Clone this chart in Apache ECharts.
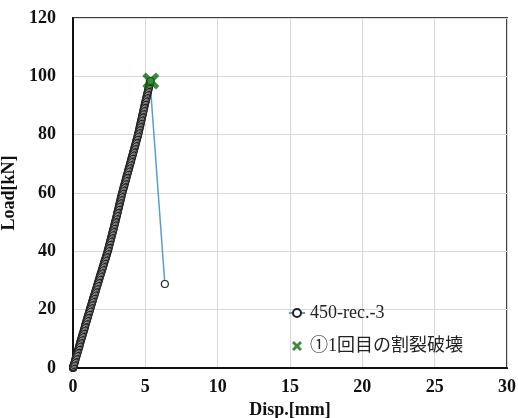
<!DOCTYPE html>
<html>
<head>
<meta charset="utf-8">
<script src="https://cdn.jsdelivr.net/npm/echarts@6/dist/echarts.min.js"></script>
<style>
  html, body { margin: 0; padding: 0; background: #fff; }
  #chart { width: 518px; height: 418px; }
</style>
</head>
<body>
<div id="chart"></div>
<script>
const seriesName = '450-rec.-3';
const crackName = '①1回目の割裂破壊';

// displacement [mm] and load [kN]
const dispValues = [
  0, 0.005, 0.01, 0.015, 0.02,
  0.03, 0.06, 0.09, 0.12, 0.15, 0.17, 0.20, 0.23, 0.26, 0.29, 0.32, 0.35, 0.38, 0.41, 0.44, 0.46, 0.49, 0.52, 0.55, 0.58,
  0.61, 0.64, 0.67, 0.70, 0.73, 0.76, 0.79, 0.82, 0.84, 0.87, 0.90, 0.93, 0.96, 0.99, 1.02, 1.05, 1.08, 1.11, 1.14, 1.17,
  1.20, 1.23, 1.26, 1.29, 1.32, 1.35, 1.38, 1.41, 1.44, 1.48, 1.51, 1.54, 1.57, 1.60, 1.63, 1.66, 1.69, 1.72, 1.75, 1.78,
  1.81, 1.84, 1.87, 1.90, 1.94, 1.97, 2.00, 2.03, 2.06, 2.09, 2.12, 2.15, 2.18, 2.21, 2.25, 2.28, 2.31, 2.34, 2.37, 2.40,
  2.43, 2.45, 2.48, 2.50, 2.53, 2.56, 2.58, 2.61, 2.63, 2.66, 2.69, 2.71, 2.74, 2.76, 2.79, 2.82, 2.84, 2.87, 2.89, 2.92,
  2.94, 2.97, 2.99, 3.02, 3.04, 3.06, 3.09, 3.11, 3.14, 3.16, 3.18, 3.21, 3.23, 3.26, 3.28, 3.30, 3.33, 3.35, 3.38, 3.40,
  3.43, 3.46, 3.48, 3.51, 3.54, 3.57, 3.59, 3.62, 3.65, 3.68, 3.70, 3.73, 3.76, 3.79, 3.81, 3.84, 3.87, 3.90, 3.92, 3.95,
  3.98, 4.01, 4.03, 4.06, 4.09, 4.12, 4.14, 4.17, 4.20, 4.23, 4.25, 4.28, 4.31, 4.34, 4.36, 4.39, 4.42, 4.45, 4.47, 4.50,
  4.52, 4.55, 4.57, 4.59, 4.61, 4.64, 4.66, 4.68, 4.70, 4.73, 4.75, 4.77, 4.79, 4.82, 4.84, 4.86, 4.88, 4.91, 4.93, 4.95,
  4.97, 5.00, 5.02, 5.05, 5.07, 5.09, 5.12, 5.14, 5.16, 5.19, 5.21, 5.24, 5.26, 5.28, 5.31, 5.33,
  5.36,
  6.35
];
const loadValues = [
  0, 0.1, 0.2, 0.3, 0.4,
  0.5, 1, 1.5, 2, 2.5, 3, 3.5, 4, 4.5, 5, 5.5, 6, 6.5, 7, 7.5, 8, 8.5, 9, 9.5, 10,
  10.5, 11, 11.5, 12, 12.5, 13, 13.5, 14, 14.5, 15, 15.5, 16, 16.5, 17, 17.5, 18, 18.5, 19, 19.5, 20,
  20.5, 21, 21.5, 22, 22.5, 23, 23.5, 24, 24.5, 25, 25.5, 26, 26.5, 27, 27.5, 28, 28.5, 29, 29.5, 30,
  30.5, 31, 31.5, 32, 32.5, 33, 33.5, 34, 34.5, 35, 35.5, 36, 36.5, 37, 37.5, 38, 38.5, 39, 39.5, 40,
  40.5, 41, 41.5, 42, 42.5, 43, 43.5, 44, 44.5, 45, 45.5, 46, 46.5, 47, 47.5, 48, 48.5, 49, 49.5, 50,
  50.5, 51, 51.5, 52, 52.5, 53, 53.5, 54, 54.5, 55, 55.5, 56, 56.5, 57, 57.5, 58, 58.5, 59, 59.5, 60,
  60.5, 61, 61.5, 62, 62.5, 63, 63.5, 64, 64.5, 65, 65.5, 66, 66.5, 67, 67.5, 68, 68.5, 69, 69.5, 70,
  70.5, 71, 71.5, 72, 72.5, 73, 73.5, 74, 74.5, 75, 75.5, 76, 76.5, 77, 77.5, 78, 78.5, 79, 79.5, 80,
  80.5, 81, 81.5, 82, 82.5, 83, 83.5, 84, 84.5, 85, 85.5, 86, 86.5, 87, 87.5, 88, 88.5, 89, 89.5, 90,
  90.5, 91, 91.5, 92, 92.5, 93, 93.5, 94, 94.5, 95, 95.5, 96, 96.5, 97, 97.5, 98,
  98.4,
  28.8
];

// first splitting failure point
const crackDisp = [5.38];
const crackLoad = [98.4];

const xTicks = [0, 5, 10, 15, 20, 25, 30];
const yTicks = [0, 20, 40, 60, 80, 100, 120];

const crossIcon = 'path://M2,0 L5,3 L8,0 L10,2 L7,5 L10,8 L8,10 L5,7 L2,10 L0,8 L3,5 L0,2 Z';
const serif = '"Liberation Serif", "Times New Roman", serif';

const chart = echarts.init(document.getElementById('chart'));

const option = {
  backgroundColor: '#fff',
  animation: false,
  grid: {
    left: 73,
    top: 18,
    right: 11,
    bottom: 50,
    outerBoundsMode: 'none',
    containLabel: false,
    show: true,
    borderColor: '#404040',
    borderWidth: 2
  },
  legend: {
    orient: 'vertical',
    left: 283,
    top: 299,
    itemGap: 15,
    itemWidth: 16,
    itemHeight: 10,
    textStyle: {
      fontFamily: serif + ', "Noto Sans CJK JP"',
      fontSize: 18,
      color: '#222'
    },
    data: [
      { name: seriesName },
      { name: crackName, icon: crossIcon, itemStyle: { color: '#0a6e0d' } }
    ]
  },
  xAxis: {
    type: 'value',
    min: xTicks[0],
    max: xTicks[xTicks.length - 1],
    interval: xTicks[1] - xTicks[0],
    name: 'Disp.[mm]',
    nameLocation: 'middle',
    nameGap: 32,
    nameTextStyle: { fontFamily: serif, fontWeight: 'bold', fontSize: 18, color: '#111' },
    axisLine: { lineStyle: { color: '#111', width: 2 } },
    axisTick: { show: false },
    axisLabel: { fontFamily: serif, fontWeight: 'bold', fontSize: 18, color: '#111', margin: 10 },
    splitLine: { lineStyle: { color: '#d9d9d9' } }
  },
  yAxis: {
    type: 'value',
    min: yTicks[0],
    max: yTicks[yTicks.length - 1],
    interval: yTicks[1] - yTicks[0],
    name: 'Load[kN]',
    nameLocation: 'middle',
    nameGap: 55,
    nameTextStyle: { fontFamily: serif, fontWeight: 'bold', fontSize: 18, color: '#111' },
    axisLine: { show: true, lineStyle: { color: '#111', width: 2 } },
    axisTick: { show: false },
    axisLabel: { fontFamily: serif, fontWeight: 'bold', fontSize: 18, color: '#111', margin: 17 },
    splitLine: { lineStyle: { color: '#d9d9d9' } }
  },
  series: [
    {
      name: seriesName,
      type: 'line',
      data: dispValues.map((d, i) => [d, loadValues[i]]),
      symbol: 'circle',
      symbolSize: 7,
      showAllSymbol: true,
      lineStyle: { color: '#5b9bd5', width: 1.5 },
      itemStyle: { color: '#fff', borderColor: '#222', borderWidth: 1.2 },
      z: 2
    },
    {
      name: crackName,
      type: 'scatter',
      data: crackDisp.map((d, i) => [d, crackLoad[i]]),
      symbol: crossIcon,
      symbolSize: 17,
      itemStyle: { color: '#0a6e0d' },
      z: 3
    }
  ]
};

option && chart.setOption(option);
</script>
</body>
</html>
